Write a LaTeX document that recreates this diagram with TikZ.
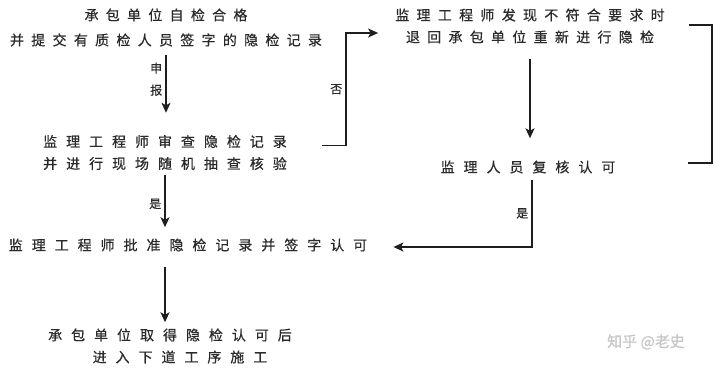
\documentclass[tikz,border=0pt]{standalone}
\usepackage{fontspec}
\usepackage{xcolor}
\usetikzlibrary{arrows.meta}
\newfontfamily\cjk[LetterSpace=52,FakeBold=0.6]{Noto Sans CJK SC}
\newfontfamily\cjkwide[LetterSpace=64,FakeBold=0.6]{Noto Sans CJK SC}
\newfontfamily\cjklab[FakeBold=0.6]{Noto Sans CJK SC}
\definecolor{txtgray}{HTML}{2A2A2A}
\definecolor{linegray}{HTML}{1E1E1E}

\begin{document}
\begin{tikzpicture}[x=1pt, y=-1pt,
    box/.style={inner sep=0pt, align=center, text=txtgray, font=\cjk\fontsize{14}{22}\selectfont},
    widebox/.style={box, font=\cjkwide\fontsize{14}{22}\selectfont},
    lab/.style={inner sep=3pt, text=txtgray, font=\cjklab\fontsize{12}{22}\selectfont},
    line/.style={draw=linegray, line width=1.6pt},
    arr/.style={line, -{Stealth[length=10pt,width=9pt,inset=2.5pt]}}]
    \useasboundingbox (0,0) rectangle (720,370);

    % 左列
    \node[box] (zijian) at (166,27.5) {承包单位自检合格\\[3pt]并提交有质检人员签字的隐检记录};
    \node[widebox] (shencha) at (165,152.5) {监理工程师审查隐检记录\\并进行现场随机抽查核验};
    \node[widebox] (pizhun) at (188,245) {监理工程师批准隐检记录并签字认可};
    \node[widebox] (shigong) at (170,346) {承包单位取得隐检认可后\\\hspace*{20pt}进入下道工序施工};

    % 右列
    \node[box] (tuihui) at (530,26) {监理工程师发现不符合要求时\\退回承包单位重新进行隐检};
    \node[widebox] (fuhe) at (528,167) {监理人员复核认可};

    % 箭头
    \draw[arr] ([yshift=-8pt]zijian.south) -- ([yshift=22pt]zijian.south |- shencha.north)
        node[lab, pos=0.42, left, align=center] {申\\报};
    \draw[arr] ([yshift=-5pt]shencha.south) -- ([yshift=11pt]shencha.south |- pizhun.north)
        node[lab, pos=0.55, left] {是};
    \draw[arr] ([xshift=-23pt,yshift=-15pt]pizhun.south) -- ([xshift=-23pt,yshift=6pt]pizhun.south |- shigong.north);

    % 否 的分支
    \draw[arr] ([xshift=35pt,yshift=7pt]shencha.east) -| node[lab, pos=0.75, left] {否}
        ([xshift=-49pt,yshift=-7pt]tuihui.west) -- ([xshift=-17pt,yshift=-7pt]tuihui.west);
    \draw[arr] ([yshift=-15pt]tuihui.south) -- ([yshift=22pt]tuihui.south |- fuhe.north);
    % 右边的括号
    \draw[line] ([xshift=24pt,yshift=1pt]tuihui.east) -- ++(23,0) |- ([xshift=72pt,yshift=4pt]fuhe.east);
    \draw[arr] ([xshift=4pt,yshift=-6pt]fuhe.south) |- node[lab, pos=0.25, left] {是}
        ([xshift=26pt,yshift=-2pt]pizhun.east);

    \node[text=gray!45, inner sep=0pt, font=\cjklab\fontsize{15}{18}\selectfont] (zhihu) at (646,342) {知乎 @老史};
\end{tikzpicture}
\end{document}
